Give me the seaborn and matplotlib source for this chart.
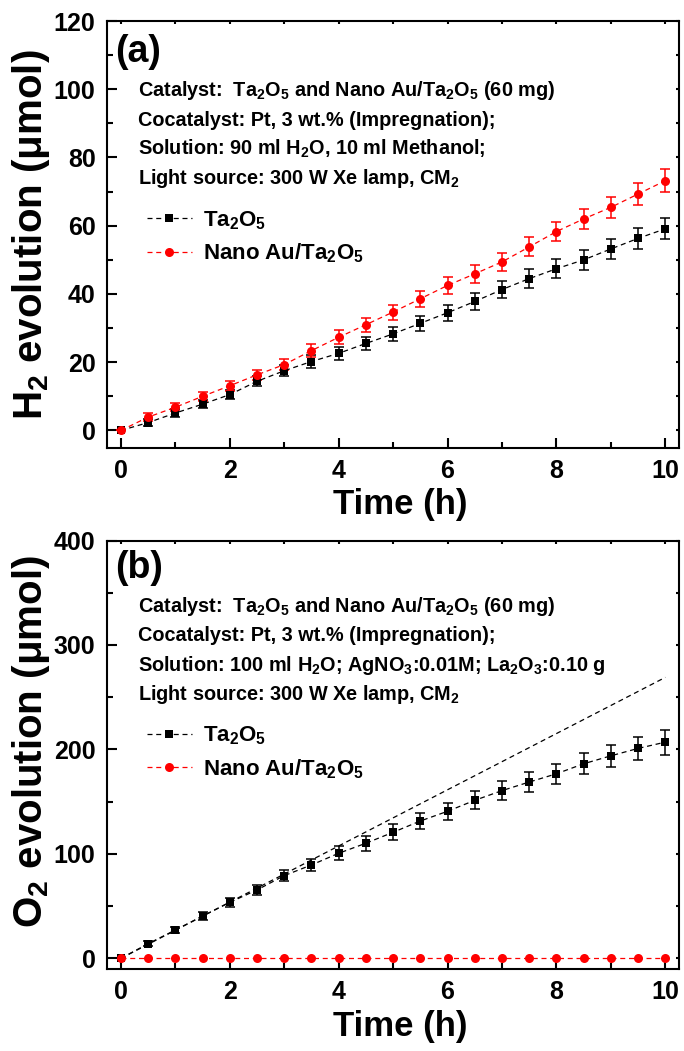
import numpy as np
import pandas as pd
import matplotlib
matplotlib.use("Agg")
import matplotlib.pyplot as plt
import seaborn as sns
from matplotlib.ticker import MultipleLocator

# ---------------- data ----------------
time_h = [0, 0.5, 1, 1.5, 2, 2.5, 3, 3.5, 4, 4.5, 5, 5.5, 6, 6.5, 7, 7.5, 8, 8.5, 9, 9.5, 10]

h2_ta2o5 = [0, 2.3, 5.1, 7.7, 10.5, 14.4, 17.5, 20.2, 22.6, 25.5, 28.3, 31.4, 34.5, 37.8,
            41.3, 44.5, 47.4, 50.0, 53.2, 56.3, 59.1]
h2_ta2o5_err = [0, 1.0, 1.1, 1.2, 1.3, 1.5, 1.6, 1.8, 1.9, 2.0, 2.1, 2.2, 2.4, 2.5, 2.6,
                2.7, 2.8, 2.9, 3.0, 3.0, 3.1]
h2_au = [0, 3.9, 6.8, 10.0, 13.1, 16.3, 19.3, 23.4, 27.3, 31.0, 34.7, 38.6, 42.5, 45.9,
         49.4, 53.8, 58.3, 62.0, 65.4, 69.3, 73.2]
h2_au_err = [0, 1.1, 1.2, 1.3, 1.4, 1.5, 1.7, 1.9, 2.0, 2.1, 2.2, 2.4, 2.5, 2.6, 2.7,
             2.8, 2.9, 3.0, 3.1, 3.2, 3.3]

o2_ta2o5 = [0, 14.0, 27.1, 40.5, 53.6, 65.5, 79.2, 89.4, 100.6, 110.2, 120.7, 131.5, 140.8,
            151.3, 160.6, 168.8, 176.7, 186.3, 193.9, 201.0, 207.0]
o2_ta2o5_err = [0, 2.5, 3.0, 3.5, 4.0, 4.5, 5.0, 5.8, 6.5, 7.0, 7.5, 8.0, 8.2, 8.5, 9.0,
                9.3, 9.8, 10.2, 10.8, 11.3, 12.0]
o2_au = [0] * 21
o2_fit_time = [0, 10]
o2_fit = [0, 269]

series_labels = ["Ta$_2$O$_5$", "Nano Au/Ta$_2$O$_5$"]
panel_a_notes = ["Catalyst:  Ta$_2$O$_5$ and Nano Au/Ta$_2$O$_5$ (60 mg)",
                 "Cocatalyst: Pt, 3 wt.% (Impregnation);",
                 "Solution: 90 ml H$_2$O, 10 ml Methanol;",
                 "Light source: 300 W Xe lamp, CM$_2$"]
panel_b_notes = ["Catalyst:  Ta$_2$O$_5$ and Nano Au/Ta$_2$O$_5$ (60 mg)",
                 "Cocatalyst: Pt, 3 wt.% (Impregnation);",
                 "Solution: 100 ml H$_2$O; AgNO$_3$:0.01M; La$_2$O$_3$:0.10 g",
                 "Light source: 300 W Xe lamp, CM$_2$"]

# ---------------- style ----------------
sns.set_theme(style="ticks")
fam = ["Liberation Sans", "DejaVu Sans"]
plt.rcParams["font.family"] = fam
plt.rcParams["font.weight"] = "bold"
plt.rcParams["mathtext.default"] = "regular"
plt.rcParams["axes.linewidth"] = 1.5
for key in ["text.color", "axes.labelcolor", "xtick.color", "ytick.color",
            "axes.edgecolor", "xtick.labelcolor", "ytick.labelcolor"]:
    plt.rcParams[key] = "black"

fig = plt.figure(figsize=(6.84, 10.51), dpi=100)
ax1 = fig.add_axes([0.156, 0.5742, 0.8374, 0.4058])
ax2 = fig.add_axes([0.156, 0.0777, 0.8374, 0.4080])


def draw_series(ax, t, v, err, color, marker, ms, label):
    df = pd.DataFrame({"t": t, "v": v})
    sns.lineplot(data=df, x="t", y="v", ax=ax, color=color, linestyle="--",
                 linewidth=0.9, marker=marker, markersize=ms, markeredgewidth=0,
                 label=label, zorder=3)
    ax.lines[-1].set_dashes((4, 3))
    if err is not None:
        ax.errorbar(t, v, yerr=err, fmt="none", ecolor=color, elinewidth=1.1,
                    capsize=3.5, capthick=1.1, zorder=2)


# panel (a)
draw_series(ax1, time_h, h2_ta2o5, h2_ta2o5_err, "black", "s", 5.5, series_labels[0])
draw_series(ax1, time_h, h2_au, h2_au_err, "#ff0000", "o", 6.5, series_labels[1])

# panel (b)
fit_df = pd.DataFrame({"t": o2_fit_time, "v": o2_fit})
sns.lineplot(data=fit_df, x="t", y="v", ax=ax2, color="black", linewidth=0.9, zorder=2)
ax2.lines[-1].set_dashes((4, 3))
draw_series(ax2, time_h, o2_ta2o5, o2_ta2o5_err, "black", "s", 5.5, series_labels[0])
draw_series(ax2, time_h, o2_au, None, "#ff0000", "o", 6.5, series_labels[1])


def style_axes(ax, ylim, ymajor, yminor, ylabel, ylab_y):
    ax.set_xlim(-0.26, 10.26)
    ax.set_ylim(*ylim)
    ax.xaxis.set_major_locator(MultipleLocator(2))
    ax.xaxis.set_minor_locator(MultipleLocator(1))
    ax.yaxis.set_major_locator(MultipleLocator(ymajor))
    ax.yaxis.set_minor_locator(MultipleLocator(yminor))
    ax.tick_params(which="major", direction="in", length=7, width=1.5,
                   labelsize=18, pad=8, top=True, right=True)
    ax.tick_params(which="minor", direction="in", length=4, width=1.5,
                   top=True, right=True)
    # the top/right ticks of the reference are only tiny notches
    for tick in ax.xaxis.get_major_ticks() + ax.xaxis.get_minor_ticks():
        tick.tick2line.set_markersize(2)
    for tick in ax.yaxis.get_major_ticks() + ax.yaxis.get_minor_ticks():
        tick.tick2line.set_markersize(2)
    for lab in ax.get_xticklabels() + ax.get_yticklabels():
        lab.set_fontweight("bold")
    ax.set_xlabel("Time (h)", fontsize=25, fontweight="bold")
    ax.set_ylabel(ylabel, fontsize=29, fontweight="bold")
    ax.xaxis.set_label_coords(0.512, -0.095)
    ax.yaxis.set_label_coords(-0.095, ylab_y)
    for s in ax.spines.values():
        s.set_visible(True)
        s.set_linewidth(1.5)
        s.set_color("black")


style_axes(ax1, (-5, 120), 20, 10, "H$_2$ evolution (\u03bcmol)", 0.50)
style_axes(ax2, (-10.5, 400), 100, 50, "O$_2$ evolution (\u03bcmol)", 0.53)


def annotate(ax, letter, letter_y, notes, note_top, legend_anchor):
    ax.text(0.014, letter_y, letter, transform=ax.transAxes, fontsize=27,
            fontweight="bold", va="center", ha="left")
    y = note_top
    for line in notes:
        ax.text(0.055, y, line, transform=ax.transAxes, fontsize=14.3,
                fontweight="bold", va="baseline", ha="left")
        y -= 0.069
    leg = ax.legend(loc="upper left", bbox_to_anchor=legend_anchor, frameon=False,
                    fontsize=16, handlelength=2.0, handletextpad=0.5,
                    labelspacing=0.45, borderaxespad=0)
    for txt in leg.get_texts():
        txt.set_fontweight("bold")


annotate(ax1, "(a)", 0.927, panel_a_notes, 0.824, (0.055, 0.580))
annotate(ax2, "(b)", 0.936, panel_b_notes, 0.834, (0.055, 0.592))

fig.savefig("out.png", dpi=100)
